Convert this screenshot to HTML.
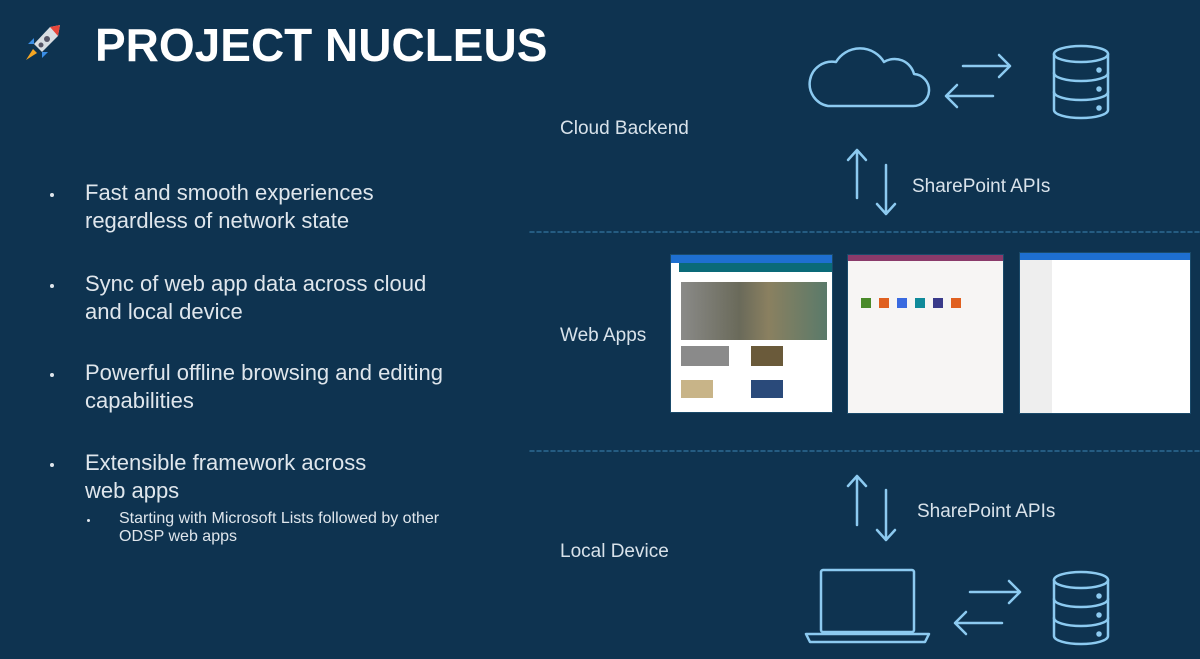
<!DOCTYPE html>
<html><head><meta charset="utf-8"><style>
html,body{margin:0;padding:0}
body{width:1200px;height:659px;background:#0e3350;position:relative;overflow:hidden;font-family:"Liberation Sans",sans-serif;color:#e4eaf0}
.t{position:absolute;white-space:nowrap}
.b{font-size:22px;line-height:28px;color:#dfe6ec;left:85px}
.dot{position:absolute;left:50px;width:4px;height:4px;border-radius:2px;background:#dfe6ec}
.lab{font-size:19px;color:#d8e2ea;left:560px}
.shot{position:absolute;background:#f7f5f4;box-shadow:0 0 0 1px #1a4a6a}
</style></head><body>
<svg class="t" style="left:20px;top:22px" width="44" height="42" viewBox="0 0 44 42">
<path d="M40 3 L30 5 L14 22 L22 30 L38 14 Z" fill="#d8dde2"/>
<path d="M40 3 L30 5 L38 14 Z" fill="#e8463a"/>
<circle cx="27" cy="17" r="3" fill="#556"/><circle cx="21" cy="23" r="2.5" fill="#556"/>
<path d="M14 22 L8 22 L14 16 Z M22 30 L22 36 L28 30 Z" fill="#3a8ee6"/>
<path d="M13 27 L6 38 L17 31 Z" fill="#f5a623"/>
</svg>
<div class="t" style="left:95px;top:18px;font-size:46px;font-weight:bold;color:#fff">PROJECT NUCLEUS</div>

<div class="dot" style="top:193px"></div>
<div class="t b" style="top:179px">Fast and smooth experiences<br>regardless of network state</div>
<div class="dot" style="top:284px"></div>
<div class="t b" style="top:270px">Sync of web app data across cloud<br>and local device</div>
<div class="dot" style="top:373px"></div>
<div class="t b" style="top:359px">Powerful offline browsing and editing<br>capabilities</div>
<div class="dot" style="top:463px"></div>
<div class="t b" style="top:449px">Extensible framework across<br>web apps</div>
<div class="dot" style="top:519px;left:87px;width:3px;height:3px"></div>
<div class="t" style="left:119px;top:510px;font-size:16px;line-height:18px;color:#dfe6ec">Starting with Microsoft Lists followed by other<br>ODSP web apps</div>

<div class="t lab" style="top:118px">Cloud Backend</div>
<div class="t lab" style="top:325px">Web Apps</div>
<div class="t lab" style="top:541px">Local Device</div>
<div class="t" style="left:912px;top:176px;font-size:19px;color:#d8e2ea">SharePoint APIs</div>
<div class="t" style="left:917px;top:501px;font-size:19px;color:#d8e2ea">SharePoint APIs</div>

<svg class="t" style="left:0;top:0" width="1200" height="659" fill="none" stroke="#8ccaf0" stroke-width="2.5" stroke-linecap="round" stroke-linejoin="round">
<line x1="530" y1="232" x2="1200" y2="232" stroke="#2d6a92" stroke-width="1.5" stroke-dasharray="4 3"/>
<line x1="530" y1="451" x2="1200" y2="451" stroke="#2d6a92" stroke-width="1.5" stroke-dasharray="4 3"/>
<path d="M828 106 H912 A16 16 0 0 0 914 74 A20 20 0 0 0 884 62 A28 28 0 0 0 836 62 A22 22 0 0 0 828 106 Z"/>
<g transform="translate(1053,46)"><ellipse cx="28" cy="8" rx="27" ry="8"/><path d="M1 8 V64 A27 8 0 0 0 55 64 V8"/><path d="M1 27 A27 8 0 0 0 55 27 M1 46 A27 8 0 0 0 55 46"/><circle cx="46" cy="24" r="1.5" fill="#8ccaf0"/><circle cx="46" cy="43" r="1.5" fill="#8ccaf0"/><circle cx="46" cy="62" r="1.5" fill="#8ccaf0"/></g>
<path d="M963 66 H1010 M999 55 L1010 66 L999 77"/>
<path d="M993 96 H946 M957 85 L946 96 L957 107"/>
<path d="M857 198 V150 M848 160 L857 150 L866 160"/>
<path d="M886 165 V214 M877 204 L886 214 L895 204"/>
<path d="M857 525 V476 M848 486 L857 476 L866 486"/>
<path d="M886 490 V540 M877 530 L886 540 L895 530"/>
<rect x="821" y="570" width="93" height="62" rx="2"/>
<path d="M806 634 H929 L925 642 H810 Z"/>
<g transform="translate(1053,572)"><ellipse cx="28" cy="8" rx="27" ry="8"/><path d="M1 8 V64 A27 8 0 0 0 55 64 V8"/><path d="M1 27 A27 8 0 0 0 55 27 M1 46 A27 8 0 0 0 55 46"/><circle cx="46" cy="24" r="1.5" fill="#8ccaf0"/><circle cx="46" cy="43" r="1.5" fill="#8ccaf0"/><circle cx="46" cy="62" r="1.5" fill="#8ccaf0"/></g>
<path d="M970 592 H1020 M1009 581 L1020 592 L1009 603"/>
<path d="M1002 623 H955 M966 612 L955 623 L966 634"/>
</svg>

<div class="shot" style="left:671px;top:255px;width:161px;height:157px;background:#fff">
<div style="height:8px;background:#1e6fd0"></div>
<div style="height:9px;background:#0a6a78;margin:0 0 0 8px"></div>
<div style="position:absolute;left:10px;top:27px;width:146px;height:58px;background:linear-gradient(90deg,#8a8a88,#6a6a5a 40%,#8a8060 60%,#5a7a6a)"></div>
<div style="position:absolute;left:10px;top:91px;width:48px;height:20px;background:#8a8a8a"></div>
<div style="position:absolute;left:80px;top:91px;width:32px;height:20px;background:#6a5a3a"></div>
<div style="position:absolute;left:10px;top:125px;width:32px;height:18px;background:#c8b488"></div>
<div style="position:absolute;left:80px;top:125px;width:32px;height:18px;background:#2a4a7a"></div>
</div>
<div class="shot" style="left:848px;top:255px;width:155px;height:158px">
<div style="height:6px;background:#8a3a6a"></div>
<div style="position:absolute;top:40px;left:10px;width:140px;height:14px">
<span style="display:inline-block;width:10px;height:10px;background:#4a8a2a;margin:0 8px 0 3px"></span><span style="display:inline-block;width:10px;height:10px;background:#e06020;margin-right:8px"></span><span style="display:inline-block;width:10px;height:10px;background:#3a6ae0;margin-right:8px"></span><span style="display:inline-block;width:10px;height:10px;background:#108a9a;margin-right:8px"></span><span style="display:inline-block;width:10px;height:10px;background:#3a3a8a;margin-right:8px"></span><span style="display:inline-block;width:10px;height:10px;background:#e06020"></span></div>
</div>
<div class="shot" style="left:1020px;top:253px;width:170px;height:160px;background:#fff">
<div style="height:7px;background:#1e6fd0"></div>
<div style="position:absolute;left:0;top:7px;width:32px;height:153px;background:#eeeeee"></div>
</div>
</body></html>
